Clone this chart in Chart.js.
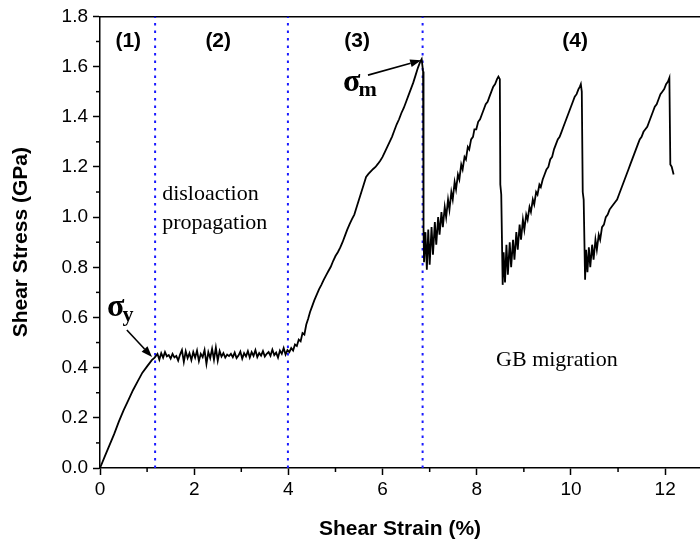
<!DOCTYPE html>
<html>
<head>
<meta charset="utf-8">
<script src="https://cdn.jsdelivr.net/npm/chart.js@4.4.1/dist/chart.umd.min.js"></script>
<style>
  html, body { margin: 0; padding: 0; background: #fff; overflow: hidden; }
  canvas { display: block; }
</style>
</head>
<body>
<canvas id="stressChart" width="700" height="547"></canvas>
<script>
// shear strain (%) and shear stress (GPa)
const strain = [
  0, 0.1, 0.2, 0.3, 0.4, 0.5, 0.6, 0.7, 0.8, 0.9, 1.0, 1.1, 1.16,
  1.22, 1.26, 1.30, 1.34, 1.38, 1.42, 1.46, 1.50, 1.54, 1.58, 1.62, 1.66, 1.70, 1.74, 1.78, 1.82,
  1.86, 1.90, 1.94, 1.98, 2.02, 2.06, 2.10, 2.14, 2.18, 2.22, 2.26, 2.30, 2.34, 2.38, 2.42, 2.46,
  2.50, 2.54, 2.58, 2.62, 2.66, 2.70, 2.74, 2.78, 2.82, 2.86, 2.90, 2.94, 2.98, 3.02, 3.06, 3.10,
  3.14, 3.18, 3.22, 3.26, 3.30, 3.34, 3.38, 3.42, 3.46, 3.50, 3.54, 3.58, 3.62, 3.66, 3.70, 3.74,
  3.78, 3.82, 3.86, 3.90, 3.94, 3.98,
  4.02, 4.06, 4.10, 4.14, 4.18, 4.22, 4.26, 4.30, 4.34, 4.38, 4.42, 4.46, 4.50, 4.55, 4.60, 4.65,
  4.70, 4.75, 4.80, 4.85, 4.90, 4.95, 5.00, 5.05, 5.10, 5.15, 5.20, 5.25, 5.30, 5.35, 5.40, 5.45,
  5.50, 5.55, 5.60, 5.65, 5.70, 5.75, 5.80, 5.85, 5.90, 5.95, 6.00, 6.05, 6.10, 6.15, 6.20, 6.25,
  6.30, 6.35, 6.40, 6.45, 6.50, 6.55, 6.60, 6.65, 6.70, 6.75, 6.80, 6.83,
  6.86, 6.87, 6.88, 6.91, 6.94, 6.97, 7.00, 7.04, 7.07, 7.11, 7.14, 7.18, 7.21, 7.25, 7.28,
  7.32, 7.35, 7.39, 7.42, 7.46, 7.49, 7.53, 7.56, 7.60, 7.63, 7.67, 7.70, 7.74, 7.77, 7.81, 7.84,
  7.88, 7.92, 7.95, 7.99, 8.03, 8.07, 8.11, 8.15, 8.19, 8.23, 8.27, 8.31, 8.35, 8.39, 8.43, 8.46,
  8.49, 8.50, 8.52, 8.55,
  8.57, 8.60, 8.63, 8.66, 8.70, 8.73, 8.77, 8.80, 8.84, 8.87, 8.91, 8.94, 8.98, 9.01, 9.05, 9.08,
  9.12, 9.15, 9.19, 9.22, 9.26, 9.29, 9.33, 9.36, 9.40, 9.44, 9.48, 9.52, 9.56, 9.60, 9.64, 9.68,
  9.72, 9.76, 9.80, 9.84, 9.88, 9.92, 9.96, 10.00, 10.04, 10.08, 10.12, 10.16, 10.19, 10.21, 10.23, 10.25,
  10.27, 10.30,
  10.32, 10.35, 10.38, 10.41, 10.45, 10.48, 10.52, 10.55, 10.59, 10.62, 10.66, 10.70, 10.74, 10.78, 10.82, 10.86,
  10.90, 10.94, 10.98, 11.02, 11.06, 11.10, 11.14, 11.18, 11.22, 11.26, 11.30, 11.34, 11.38, 11.42, 11.46, 11.50,
  11.54, 11.58, 11.62, 11.66, 11.70, 11.74, 11.78, 11.82, 11.86, 11.90, 11.94, 11.98, 12.02, 12.06, 12.09, 12.11,
  12.14, 12.18
];
const stress = [
  0, 0.045, 0.09, 0.135, 0.185, 0.23, 0.27, 0.31, 0.345, 0.38, 0.405, 0.43, 0.44,
  0.455, 0.432, 0.458, 0.440, 0.462, 0.445, 0.450, 0.436, 0.455, 0.441, 0.447, 0.428, 0.452, 0.470, 0.423, 0.465,
  0.438, 0.458, 0.430, 0.462, 0.440, 0.468, 0.426, 0.455, 0.442, 0.470, 0.415, 0.462, 0.438, 0.475, 0.432, 0.480,
  0.428, 0.466, 0.444, 0.458, 0.440, 0.452, 0.446, 0.455, 0.442, 0.460, 0.438, 0.448, 0.464, 0.436, 0.458, 0.445,
  0.466, 0.440, 0.462, 0.447, 0.470, 0.442, 0.458, 0.448, 0.466, 0.444, 0.455, 0.462, 0.447, 0.472, 0.450, 0.460,
  0.440, 0.468, 0.455, 0.478, 0.452, 0.470,
  0.462, 0.478, 0.468, 0.492, 0.486, 0.512, 0.505, 0.538, 0.532, 0.572, 0.595, 0.622, 0.642, 0.668, 0.690, 0.712,
  0.730, 0.750, 0.768, 0.785, 0.802, 0.825, 0.845, 0.860, 0.878, 0.900, 0.925, 0.950, 0.972, 0.992, 1.010, 1.040,
  1.070, 1.100, 1.130, 1.160, 1.172, 1.182, 1.192, 1.200, 1.212, 1.225, 1.240, 1.260, 1.280, 1.300, 1.320, 1.345,
  1.370, 1.390, 1.415, 1.435, 1.460, 1.485, 1.510, 1.535, 1.565, 1.595, 1.620, 1.630,
  1.58, 0.95, 0.82, 0.94, 0.79, 0.95, 0.81, 0.96, 0.85, 0.98, 0.89, 1.00, 0.93, 1.02, 0.96,
  1.04, 1.00, 1.07, 1.03, 1.10, 1.07, 1.14, 1.11, 1.17, 1.15, 1.21, 1.19, 1.24, 1.23, 1.28, 1.27,
  1.31, 1.32, 1.35, 1.35, 1.38, 1.39, 1.41, 1.43, 1.45, 1.46, 1.48, 1.50, 1.52, 1.53, 1.55, 1.56,
  1.55, 1.13, 1.09, 0.73,
  0.86, 0.74, 0.89, 0.77, 0.90, 0.80, 0.91, 0.83, 0.94, 0.87, 0.97, 0.91, 0.99, 0.95, 1.01, 0.99,
  1.04, 1.02, 1.07, 1.05, 1.10, 1.09, 1.13, 1.12, 1.15, 1.17, 1.19, 1.20, 1.23, 1.24, 1.27, 1.29,
  1.31, 1.32, 1.34, 1.36, 1.38, 1.40, 1.42, 1.44, 1.46, 1.48, 1.49, 1.51, 1.52, 1.53, 1.50, 1.10,
  1.07, 0.75,
  0.87, 0.78, 0.88, 0.80, 0.89, 0.83, 0.91, 0.87, 0.93, 0.91, 0.96, 0.97, 1.00, 1.01, 1.03, 1.04,
  1.05, 1.06, 1.07, 1.09, 1.11, 1.13, 1.15, 1.17, 1.19, 1.21, 1.23, 1.25, 1.27, 1.29, 1.31, 1.32,
  1.34, 1.35, 1.36, 1.38, 1.40, 1.42, 1.44, 1.45, 1.47, 1.49, 1.50, 1.51, 1.53, 1.54, 1.555, 1.21,
  1.20, 1.17
];
// strain where the regimes change (blue dotted lines)
const regionBounds = [1.17, 3.99, 6.85];
const xTicksMinor = [1, 3, 5, 7, 9, 11];
const yTicksMinor = [0.1, 0.3, 0.5, 0.7, 0.9, 1.1, 1.3, 1.5, 1.7];

const curve = strain.map((s, i) => ({ x: s, y: stress[i] }));

const boundSets = regionBounds.map(b => ({
  data: [{ x: b, y: 0 }, { x: b, y: 1.8 }],
  showLine: true,
  borderColor: "#1a1aff",
  borderWidth: 2,
  borderDash: [2.5, 5],
  pointRadius: 0,
}));

// labels placed in data coordinates
const notes = [
  { t: "(1)", x: 0.6, y: 1.70, font: "bold 21px 'Liberation Sans', Arial", align: "center" },
  { t: "(2)", x: 2.51, y: 1.70, font: "bold 21px 'Liberation Sans', Arial", align: "center" },
  { t: "(3)", x: 5.46, y: 1.70, font: "bold 21px 'Liberation Sans', Arial", align: "center" },
  { t: "(4)", x: 10.09, y: 1.70, font: "bold 21px 'Liberation Sans', Arial", align: "center" },
  { t: "disloaction", x: 1.32, y: 1.07, font: "22px 'Liberation Serif', 'Times New Roman'", align: "left", base: "alphabetic" },
  { t: "propagation", x: 1.32, y: 0.952, font: "22px 'Liberation Serif', 'Times New Roman'", align: "left", base: "alphabetic" },
  { t: "GB migration", x: 8.41, y: 0.406, font: "22px 'Liberation Serif', 'Times New Roman'", align: "left", base: "alphabetic" },
];
const sigmas = [
  { sub: "y", x: 0.15, y: 0.606 },
  { sub: "m", x: 5.16, y: 1.502 },
];
const arrows = [
  { x1: 0.57, y1: 0.55, x2: 1.105, y2: 0.442 },
  { x1: 5.69, y1: 1.566, x2: 6.82, y2: 1.625 },
];

const decor = {
  id: "decor",
  afterDraw(chart) {
    const { ctx, scales: { x, y } } = chart;
    ctx.save();
    ctx.strokeStyle = "#000";
    ctx.fillStyle = "#000";
    ctx.lineWidth = 1.5;
    // minor ticks
    xTicksMinor.forEach(v => {
      const px = x.getPixelForValue(v);
      ctx.beginPath(); ctx.moveTo(px, y.bottom); ctx.lineTo(px, y.bottom + 4); ctx.stroke();
    });
    yTicksMinor.forEach(v => {
      const py = y.getPixelForValue(v);
      ctx.beginPath(); ctx.moveTo(x.left, py); ctx.lineTo(x.left - 4, py); ctx.stroke();
    });
    notes.forEach(n => {
      ctx.font = n.font;
      ctx.textAlign = n.align;
      ctx.textBaseline = n.base || "middle";
      ctx.fillText(n.t, x.getPixelForValue(n.x), y.getPixelForValue(n.y));
    });
    sigmas.forEach(s => {
      const px = x.getPixelForValue(s.x), py = y.getPixelForValue(s.y);
      ctx.textAlign = "left";
      ctx.textBaseline = "alphabetic";
      ctx.font = "bold 32px 'Liberation Serif', 'Times New Roman'";
      ctx.fillText("σ", px, py);
      const w = ctx.measureText("σ").width;
      ctx.font = "bold 22px 'Liberation Serif', 'Times New Roman'";
      ctx.fillText(s.sub, px + w - 2, py + 5);
    });
    ctx.lineWidth = 1.6;
    arrows.forEach(a => {
      const x1 = x.getPixelForValue(a.x1), y1 = y.getPixelForValue(a.y1);
      const x2 = x.getPixelForValue(a.x2), y2 = y.getPixelForValue(a.y2);
      const ang = Math.atan2(y2 - y1, x2 - x1);
      const hl = 11, hw = 4;
      const bx = x2 - hl * Math.cos(ang), by = y2 - hl * Math.sin(ang);
      ctx.beginPath(); ctx.moveTo(x1, y1); ctx.lineTo(bx, by); ctx.stroke();
      ctx.beginPath();
      ctx.moveTo(x2, y2);
      ctx.lineTo(bx + hw * Math.sin(ang), by - hw * Math.cos(ang));
      ctx.lineTo(bx - hw * Math.sin(ang), by + hw * Math.cos(ang));
      ctx.closePath(); ctx.fill();
    });
    ctx.restore();
  }
};

const tickFont = { family: "'Liberation Sans', Arial", size: 19 };
const titleFont = { family: "'Liberation Sans', Arial", size: 21, weight: "bold" };

new Chart(document.getElementById("stressChart"), {
  type: "scatter",
  data: {
    datasets: [{
      data: curve,
      showLine: true,
      borderColor: "#000",
      borderWidth: 1.8,
      pointRadius: 0,
      tension: 0,
    }, ...boundSets],
  },
  options: {
    responsive: false,
    animation: false,
    layout: { padding: 0 },
    plugins: { legend: { display: false }, tooltip: { enabled: false } },
    scales: {
      x: {
        type: "linear", position: "bottom", min: 0, max: 12.74,
        ticks: { stepSize: 2, includeBounds: false, font: tickFont, color: "#000", padding: 3, maxRotation: 0 },
        grid: { drawOnChartArea: false, tickLength: 7, tickColor: "#000", tickWidth: 1.5 },
        border: { color: "#000", width: 1.5 },
        title: { display: true, text: "Shear Strain (%)", font: titleFont, color: "#000", padding: { top: 0, bottom: 5 } },
        afterFit: s => { s.height = 79; },
      },
      xTop: {
        axis: "x", type: "linear", position: "top", min: 0, max: 12.74,
        ticks: { display: false },
        grid: { drawOnChartArea: false, drawTicks: false },
        border: { color: "#000", width: 1.5 },
        afterFit: s => { s.height = 16; },
      },
      y: {
        min: 0, max: 1.8,
        ticks: { stepSize: 0.2, callback: v => v.toFixed(1), font: tickFont, color: "#000", padding: 5 },
        grid: { drawOnChartArea: false, tickLength: 7, tickColor: "#000", tickWidth: 1.5 },
        border: { color: "#000", width: 1.5 },
        title: { display: true, text: "Shear Stress (GPa)", font: titleFont, color: "#000", padding: { top: 9, bottom: 0 } },
        afterFit: s => { s.width = 100; },
      },
    },
  },
  plugins: [decor],
});
</script>
</body>
</html>
